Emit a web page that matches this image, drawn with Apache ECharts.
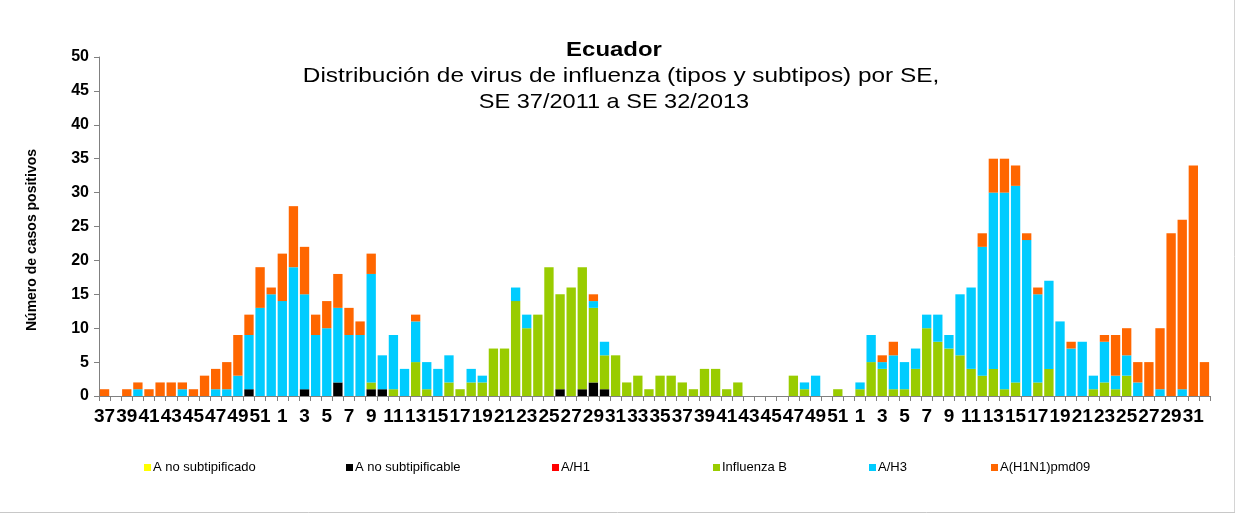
<!DOCTYPE html>
<html>
<head>
<meta charset="utf-8">
<script src="https://cdn.jsdelivr.net/npm/echarts@6/dist/echarts.min.js"></script>
<style>html,body{margin:0;padding:0;background:#fff}#c{width:1237px;height:515px}</style>
</head>
<body>
<div id="c"></div>
<script>
// Epidemiological weeks (SE) shown on the x axis
const weeks2011 = [37,38,39,40,41,42,43,44,45,46,47,48,49,50,51,52];
const weeks2012 = [1,2,3,4,5,6,7,8,9,10,11,12,13,14,15,16,17,18,19,20,21,22,23,24,25,26,27,28,29,30,31,32,33,34,35,36,37,38,39,40,41,42,43,44,45,46,47,48,49,50,51,52];
const weeks2013 = [1,2,3,4,5,6,7,8,9,10,11,12,13,14,15,16,17,18,19,20,21,22,23,24,25,26,27,28,29,30,31,32];

const yTicks = [0,5,10,15,20,25,30,35,40,45,50];

// Series values (2011 wk37-52 | 2012 wk1-52 | 2013 wk1-32)
const aNoSubtipificado = [
  0,0,0,0,0,0,0,0,0,0,0,0,0,0,0,0,
  0,0,0,0,0,0,0,0,0,0, 0,0,0,0,0,0,0,0,0,0, 0,0,0,0,0,0,0,0,0,0, 0,0,0,0,0,0,0,0,0,0, 0,0,0,0,0,0,0,0,0,0, 0,0,
  0,0,0,0,0,0,0,0,0,0, 0,0,0,0,0,0,0,0,0,0, 0,0,0,0,0,0,0,0,0,0, 0,0
];
const aNoSubtipificable = [
  0,0,0,0,0,0,0,0,0,0,0,0,0,1,0,0,
  0,0,1,0,0,2,0,0,1,1, 0,0,0,0,0,0,0,0,0,0, 0,0,0,0,0,1,0,1,2,1, 0,0,0,0,0,0,0,0,0,0, 0,0,0,0,0,0,0,0,0,0, 0,0,
  0,0,0,0,0,0,0,0,0,0, 0,0,0,0,0,0,0,0,0,0, 0,0,0,0,0,0,0,0,0,0, 0,0
];
const aH1 = [
  0,0,0,0,0,0,0,0,0,0,0,0,0,0,0,0,
  0,0,0,0,0,0,0,0,0,0, 0,0,0,0,0,0,0,0,0,0, 0,0,0,0,0,0,0,0,0,0, 0,0,0,0,0,0,0,0,0,0, 0,0,0,0,0,0,0,0,0,0, 0,0,
  0,0,0,0,0,0,0,0,0,0, 0,0,0,0,0,0,0,0,0,0, 0,0,0,0,0,0,0,0,0,0, 0,0
];
const influenzaB = [
  0,0,0,0,0,0,0,0,0,0,0,0,0,0,0,0,
  0,0,0,0,0,0,0,0,1,0, 1,0,5,1,0,2,1,2,2,7, 7,14,10,12,19,14,16,18,11,5, 6,2,3,1,3,3,2,1,4,4, 1,2,0,0,0,0,3,1,0,0, 1,0,
  1,5,4,1,1,4,10,8,7,6, 4,3,4,1,2,0,2,4,0,0, 0,1,2,1,3,0,0,0,0,0, 0,0
];
const aH3 = [
  0,0,0,1,0,0,0,1,0,0,1,1,3,8,13,15,
  14,19,14,9,10,11,9,9,16,5, 8,4,6,4,4,4,0,2,1,0, 0,2,2,0,0,0,0,0,1,2, 0,0,0,0,0,0,0,0,0,0, 0,0,0,0,0,0,0,1,3,0, 0,0,
  1,4,1,5,4,3,2,4,2,9, 12,19,26,29,29,23,13,13,11,7, 8,2,6,2,3,2,0,1,0,1, 0,0
];
const aH1N1pdm09 = [
  1,0,1,1,1,2,2,1,1,3,3,4,6,3,6,1,
  7,9,7,3,4,5,4,2,3,0, 0,0,1,0,0,0,0,0,0,0, 0,0,0,0,0,0,0,0,1,0, 0,0,0,0,0,0,0,0,0,0, 0,0,0,0,0,0,0,0,0,0, 0,0,
  0,0,1,2,0,0,0,0,0,0, 0,2,5,5,3,1,1,0,0,1, 0,0,1,6,4,3,5,9,24,25, 34,5
];

const seriesNames = ['A no subtipificado','A no subtipificable','A/H1','Influenza B','A/H3','A(H1N1)pmd09'];
const seriesColors = ['#FFFF00','#000000','#FF0000','#99CC00','#00CCFF','#FF6600'];
const seriesData = [aNoSubtipificado, aNoSubtipificable, aH1, influenzaB, aH3, aH1N1pdm09];

const categories = []
  .concat(weeks2011.map(w => '2011-' + w))
  .concat(weeks2012.map(w => '2012-' + w))
  .concat(weeks2013.map(w => '2013-' + w));

const FONT = "'Liberation Sans', Arial, sans-serif";
const legendLeft = [144, 346, 552, 713, 869, 991];

const chart = echarts.init(document.getElementById('c'), null, {renderer: 'canvas'});
chart.setOption({
  backgroundColor: '#ffffff',
  animation: false,
  textStyle: {fontFamily: FONT},
  grid: {left: 99, right: 27, top: 57, bottom: 119, containLabel: false},
  legend: seriesNames.map((n, i) => ({
    data: [n],
    left: legendLeft[i],
    top: 461,
    padding: 0,
    icon: 'rect',
    itemWidth: 7,
    itemHeight: 7,
    selectedMode: false,
    textStyle: {fontFamily: FONT, fontSize: 13, color: '#000', padding: [0,0,0,-3]}
  })),
  xAxis: {
    type: 'category',
    data: categories,
    axisLine: {lineStyle: {color: '#808080', width: 1}},
    axisTick: {show: true, interval: 0, length: 5, lineStyle: {color: '#808080'}},
    axisLabel: {
      interval: 1,
      margin: 11,
      fontSize: 19,
      fontWeight: 'bold',
      color: '#000',
      fontFamily: FONT,
      formatter: v => v.split('-')[1]
    }
  },
  yAxis: {
    type: 'value',
    min: yTicks[0],
    max: yTicks[yTicks.length - 1],
    interval: yTicks[1] - yTicks[0],
    splitLine: {show: false},
    axisLine: {show: true, lineStyle: {color: '#808080', width: 1}},
    axisTick: {show: true, length: 5, lineStyle: {color: '#808080'}},
    axisLabel: {fontSize: 16, fontWeight: 'bold', color: '#000', margin: 10, fontFamily: FONT}
  },
  series: seriesNames.map((n, i) => ({
    name: n,
    type: 'bar',
    stack: 'total',
    data: seriesData[i],
    barCategoryGap: '16%',
    itemStyle: {color: seriesColors[i]}
  })),
  graphic: [
    {type: 'text', x: 614, y: 40, scaleX: 1.14, style: {text: 'Ecuador', font: "bold 21px 'Liberation Sans', Arial, sans-serif", fill: '#000', align: 'center', verticalAlign: 'top'}},
    {type: 'text', x: 621, y: 66, scaleX: 1.16, style: {text: 'Distribución de virus de influenza (tipos y subtipos) por SE,', font: "21px 'Liberation Sans', Arial, sans-serif", fill: '#000', align: 'center', verticalAlign: 'top'}},
    {type: 'text', x: 614, y: 92, scaleX: 1.12, style: {text: 'SE 37/2011 a SE 32/2013', font: "21px 'Liberation Sans', Arial, sans-serif", fill: '#000', align: 'center', verticalAlign: 'top'}},
    {type: 'text', x: 32, y: 240, rotation: Math.PI / 2, style: {text: 'Número de casos positivos', font: "bold 14px 'Liberation Sans', Arial, sans-serif", fill: '#000', align: 'center', verticalAlign: 'middle'}},
    {type: 'line', shape: {x1: 1234.5, y1: 0, x2: 1234.5, y2: 513}, style: {stroke: '#d4d4d4', lineWidth: 1}},
    {type: 'line', shape: {x1: 0, y1: 512.5, x2: 1235, y2: 512.5}, style: {stroke: '#c8c8c8', lineWidth: 1}}
  ]
});
</script>
</body>
</html>
